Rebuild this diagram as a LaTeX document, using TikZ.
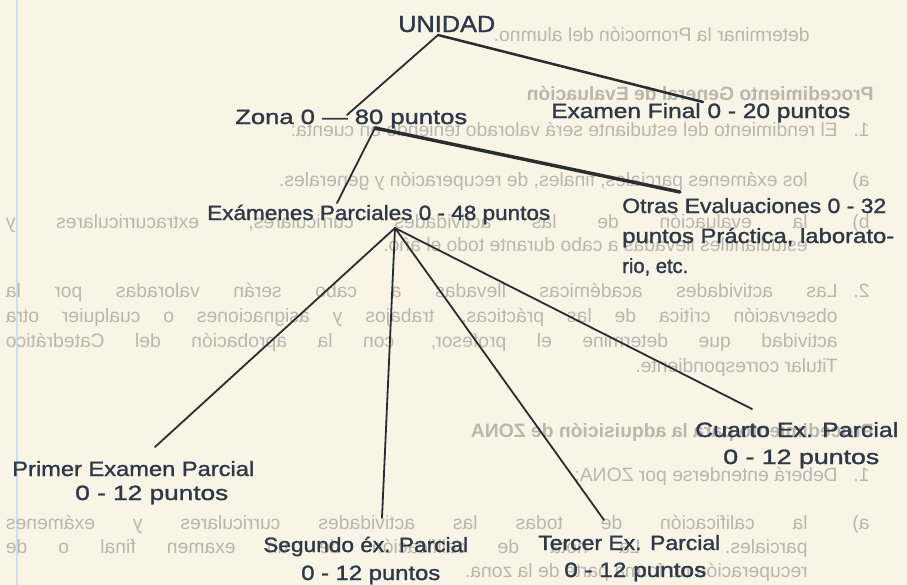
\documentclass[tikz,border=0pt]{standalone}
\usepackage{fontspec}
\setmainfont{Liberation Sans}
\newfontfamily\labfont{Liberation Sans}[FakeBold=1.3]
\usepackage{graphicx}
\newlength\pxu \setlength\pxu{0.75pt}
\newcommand\fitw[2]{\resizebox{#1\pxu}{\height}{#2}}
\newcommand\ghl[2]{\reflectbox{\makebox[#1\pxu][s]{#2}}}
\newcommand\ghn[1]{\reflectbox{#1}}
\definecolor{paper}{HTML}{F8F5E6}
\definecolor{ink}{HTML}{2E3849}
\definecolor{rulec}{HTML}{2A2C31}
\definecolor{ghost}{HTML}{BAB7AE}
\definecolor{marginc}{HTML}{C9E1F3}
\begin{document}
\begin{tikzpicture}[x=0.75pt,y=-0.75pt,
  lab/.style={font=\labfont\fontsize{15.5}{18}\selectfont, text=ink, inner sep=0, anchor=base west},
  ghosttext/.style={font=\fontsize{14.5}{17}\selectfont, text=ghost, inner sep=0, anchor=base east},
  ghosthead/.style={ghosttext, font=\fontsize{14.5}{17}\selectfont\bfseries},
  thinrule/.style={draw=rulec, line width=1.35pt, line cap=round},
  thickrule/.style={draw=rulec, line width=2.2pt, line cap=round}]
\fill[paper] (0,0) rectangle (907,585);
\useasboundingbox (0,0) rectangle (907,585);
\draw[marginc, line width=1pt] (17,0) -- (17,585);

% ghost (show-through) text, mirrored
\node[ghosttext] (g1) at (810,42) {\ghn{determinar la Promoción del alumno.}};
\node[ghosthead] (g2) at (874,101) {\ghn{Procedimiento General de Evaluación}};
\node[ghosttext] (g3n) at (870,137) {\ghn{1.}};
\node[ghosttext] (g3) at (838,137) {\ghn{El rendimiento del estudiante será valorado teniendo en cuenta:}};
\node[ghosttext] (g4n) at (870,186) {\ghn{a)}};
\node[ghosttext] (g4) at (808,186) {\ghn{los exámenes parciales, finales, de recuperación y generales.}};
\node[ghosttext] (g5n) at (870,228) {\ghn{b)}};
\node[ghosttext] (g5) at (808,228) {\ghl{802}{la evaluación de las actividades curriculares, extracurriculares y}};
\node[ghosttext] (g6) at (808,251) {\ghn{estudiantiles llevadas a cabo durante todo el año.}};
\node[ghosttext] (g7n) at (870,297) {\ghn{2.}};
\node[ghosttext] (g7) at (838,297) {\ghl{832}{Las actividades académicas llevadas a cabo serán valoradas por la}};
\node[ghosttext] (g8) at (838,322) {\ghl{832}{observación crítica de las prácticas, trabajos y asignaciones o cualquier otra}};
\node[ghosttext] (g9) at (838,347) {\ghl{832}{actividad que determine el profesor, con la aprobación del Catedrático}};
\node[ghosttext] (g10) at (838,372) {\ghn{Titular correspondiente.}};
\node[ghosthead] (g11) at (874,437) {\ghn{Procedimiento para la adquisición de ZONA}};
\node[ghosttext] (g12n) at (870,481) {\ghn{1.}};
\node[ghosttext] (g12) at (838,481) {\ghn{Deberá entenderse por ZONA:}};
\node[ghosttext] (g13n) at (870,529) {\ghn{a)}};
\node[ghosttext] (g13) at (808,529) {\ghl{802}{la calificación de todas las actividades curriculares y exámenes}};
\node[ghosttext] (g14) at (808,553) {\ghl{802}{parciales. La nota de calificación de un examen final o de}};
\node[ghosttext] (g15) at (808,577) {\ghn{recuperación no forma parte de la zona.}};

% diagram labels
\node[lab, font=\labfont\fontsize{17.5}{20}\selectfont] (unidad) at (398,32) {\fitw{97}{UNIDAD}};
\node[lab] (zona) at (235,124) {\fitw{232}{Zona 0 — 80 puntos}};
\node[lab] (final) at (551,118) {\fitw{299}{Examen Final 0 - 20 puntos}};
\node[lab] (parciales) at (207,220) {\fitw{343}{Exámenes Parciales 0 - 48 puntos}};
\node[lab] (otras1) at (622,213) {\fitw{264}{Otras Evaluaciones 0 - 32}};
\node[lab] (otras2) at (622,243) {\fitw{272}{puntos Práctica, laborato-}};
\node[lab] (otras3) at (622,273) {\fitw{66}{rio, etc.}};
\node[lab] (primer1) at (12,476) {\fitw{242}{Primer Examen Parcial}};
\node[lab] (primer2) at (75,500) {\fitw{153}{0 - 12 puntos}};
\node[lab] (segundo1) at (263,552) {\fitw{205}{Segundo éx. Parcial}};
\node[lab] (segundo2) at (301,580) {\fitw{139}{0 - 12 puntos}};
\node[lab] (tercer1) at (538,550) {\fitw{182}{Tercer Ex. Parcial}};
\node[lab] (tercer2) at (564,577) {\fitw{142}{0 - 12 puntos}};
\node[lab] (cuarto1) at (695,437) {\fitw{203}{Cuarto Ex. Parcial}};
\node[lab] (cuarto2) at (723,464) {\fitw{156}{0 - 12 puntos}};

% connector points
\coordinate (uA) at (438,35);
\coordinate (zA) at (347,115);
\coordinate (fA) at (703,102);
\coordinate (zB) at (375,128);
\coordinate (oA) at (680,192);
\coordinate (pA) at (337,203);
\coordinate (eA) at (395,228);
\coordinate (prA) at (155,447);
\coordinate (seA) at (382,518);
\coordinate (teA) at (604,520);
\coordinate (cuA) at (752,409);

\draw[thinrule] (uA) -- (zA);
\draw[thickrule, line width=1.9pt] (uA) -- (fA);
\draw[thickrule, line width=2.6pt] (zB) -- (oA);
\draw[thinrule] (zB) -- (pA);
\draw[thinrule] (eA) -- (prA);
\draw[thinrule] (eA) -- (seA);
\draw[thinrule] (eA) -- (teA);
\draw[thinrule] (eA) -- (cuA);
\end{tikzpicture}
\end{document}
